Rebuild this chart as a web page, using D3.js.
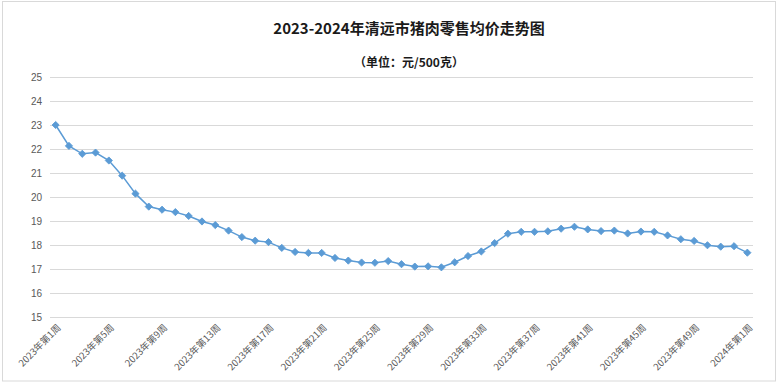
<!DOCTYPE html>
<html><head><meta charset="utf-8">
<script src="https://cdn.jsdelivr.net/npm/d3@7"></script>
<style>
html,body{margin:0;padding:0;background:#fff;}
svg{display:block;}
</style></head>
<body>
<svg id="chart" width="778" height="384"></svg>
<script>
const titleText = "2023-2024年清远市猪肉零售均价走势图";
const subtitleText = "（单位：元/500克）";
const categories = [
  "2023年第1周","2023年第2周","2023年第3周","2023年第4周","2023年第5周","2023年第6周","2023年第7周","2023年第8周",
  "2023年第9周","2023年第10周","2023年第11周","2023年第12周","2023年第13周","2023年第14周","2023年第15周","2023年第16周",
  "2023年第17周","2023年第18周","2023年第19周","2023年第20周","2023年第21周","2023年第22周","2023年第23周","2023年第24周",
  "2023年第25周","2023年第26周","2023年第27周","2023年第28周","2023年第29周","2023年第30周","2023年第31周","2023年第32周",
  "2023年第33周","2023年第34周","2023年第35周","2023年第36周","2023年第37周","2023年第38周","2023年第39周","2023年第40周",
  "2023年第41周","2023年第42周","2023年第43周","2023年第44周","2023年第45周","2023年第46周","2023年第47周","2023年第48周",
  "2023年第49周","2023年第50周","2023年第51周","2023年第52周","2024年第1周"
];
const prices = [
  23.00, 22.13, 21.80, 21.85, 21.52, 20.89, 20.14, 19.60, 19.47, 19.37,
  19.21, 18.98, 18.83, 18.60, 18.33, 18.18, 18.12, 17.88, 17.71, 17.67,
  17.67, 17.46, 17.35, 17.27, 17.26, 17.33, 17.20, 17.10, 17.11, 17.07,
  17.28, 17.54, 17.73, 18.08, 18.47, 18.55, 18.55, 18.57, 18.68, 18.76,
  18.65, 18.58, 18.60, 18.48, 18.56, 18.55, 18.40, 18.24, 18.17, 17.99,
  17.93, 17.95, 17.68
];
const yTicks = [15,16,17,18,19,20,21,22,23,24,25];
const labelEvery = 4;

const svg = d3.select("#chart");
const W = 778, H = 384;

// chart frame
svg.append("rect").attr("x",2.5).attr("y",1.5).attr("width",773).attr("height",379.5)
  .attr("fill","#fff").attr("stroke","#d9d9d9").attr("stroke-width",1);

const x = d3.scalePoint().domain(categories).range([49, 754]).padding(0.5);
const y = d3.scaleLinear().domain([15,25]).range([317,77]);

// gridlines
svg.append("g").selectAll("line").data(yTicks).join("line")
  .attr("x1",50).attr("x2",753)
  .attr("y1",d=>Math.round(y(d))+0.5).attr("y2",d=>Math.round(y(d))+0.5)
  .attr("stroke","#d9d9d9").attr("stroke-width",1);

// y axis labels
const yAxis = d3.axisLeft(y).tickValues(yTicks).tickSize(0).tickPadding(0);
const gy = svg.append("g").attr("transform","translate(42,0)").call(yAxis);
gy.select(".domain").remove();
gy.selectAll("text").attr("fill","#595959").attr("font-size","10px")
  .attr("font-family","'Liberation Sans', Arial, sans-serif");

// x axis labels
const xAxis = d3.axisBottom(x).tickValues(categories.filter((d,i)=>i%labelEvery===0)).tickSize(0).tickPadding(0);
const gx = svg.append("g").attr("transform","translate(0,326)").call(xAxis);
gx.select(".domain").remove();
gx.selectAll("text")
  .attr("fill","#595959").attr("font-size","9.5px")
  .attr("font-family","'Noto Sans CJK SC', sans-serif")
  .attr("text-anchor","end")
  .attr("dy","0.35em")
  .attr("transform","translate(3,0) rotate(-45)");

// line
const line = d3.line().x((d,i)=>x(categories[i])).y(d=>y(d));
svg.append("path").datum(prices).attr("d",line)
  .attr("fill","none").attr("stroke","#5B9BD5").attr("stroke-width",1.5);

// markers
const diamond = d3.symbol().type(d3.symbolSquare).size(26);
svg.append("g").selectAll("path").data(prices).join("path")
  .attr("d",diamond())
  .attr("transform",(d,i)=>`translate(${x(categories[i])},${y(d)}) rotate(45)`)
  .attr("fill","#5B9BD5").attr("stroke","#5B9BD5").attr("stroke-width",0.8);

// titles
svg.append("text").attr("x",409).attr("y",34).attr("text-anchor","middle")
  .attr("font-family","'Noto Sans CJK SC', sans-serif").attr("font-weight","bold")
  .attr("font-size","15px").attr("fill","#1a1a1a").text(titleText);
svg.append("text").attr("x",409).attr("y",67).attr("text-anchor","middle")
  .attr("font-family","'Noto Sans CJK SC', sans-serif").attr("font-weight","bold")
  .attr("font-size","12px").attr("fill","#1a1a1a").text(subtitleText);
</script>
</body></html>
